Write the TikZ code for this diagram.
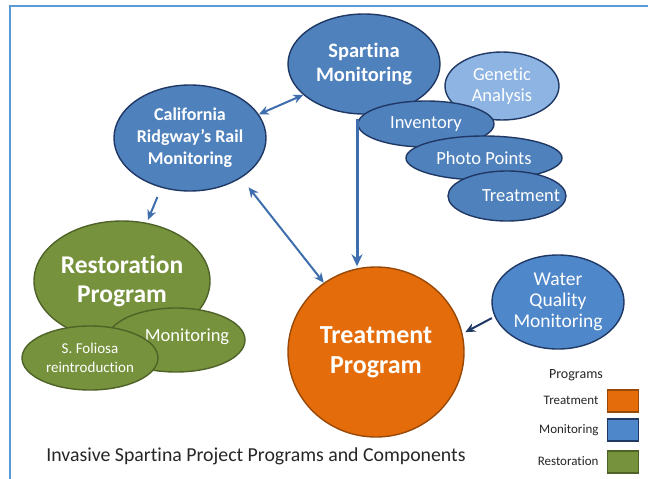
\documentclass[tikz,border=0pt]{standalone}
\usepackage{fontspec}
\setmainfont{Carlito}[Ligatures=NoCommon]
\usetikzlibrary{shapes.geometric,arrows.meta,calc}
\definecolor{bfill}{HTML}{4F81BD}
\definecolor{bdraw}{HTML}{1F3864}
\definecolor{lfill}{HTML}{8DB4E2}
\definecolor{wfill}{HTML}{4F87CB}
\definecolor{gfill}{HTML}{76923C}
\definecolor{gdraw}{HTML}{4F6228}
\definecolor{ofill}{HTML}{E46C0A}
\definecolor{odraw}{HTML}{984807}
\definecolor{arrc}{HTML}{3E6EAD}
\definecolor{framec}{HTML}{5B9BD5}
\definecolor{capc}{HTML}{262626}
\tikzset{
  el/.style={ellipse, line width=1.4pt, inner sep=0pt, align=center, text=white},
  blueel/.style={el, fill=bfill, draw=bdraw},
  greenel/.style={el, fill=gfill, draw=gdraw},
  big/.style={font=\fontsize{20.5}{24}\selectfont\bfseries},
  mid/.style={font=\fontsize{18}{22}\selectfont\bfseries},
  small/.style={font=\fontsize{18.5}{21}\selectfont},
  arrow/.style={draw=arrc, line width=2pt, -{Stealth[length=10pt,width=9pt]}},
  darrow/.style={draw=arrc, line width=2pt, {Stealth[length=10pt,width=9pt]}-{Stealth[length=10pt,width=9pt]}},
  legbox/.style={draw, line width=1.2pt, minimum width=31pt, minimum height=22pt, inner sep=0pt},
  leglbl/.style={anchor=east, font=\fontsize{13}{15}\selectfont, text=capc}
}
\begin{document}
\begin{tikzpicture}[x=1pt,y=-1pt]
\useasboundingbox (0,0) rectangle (648,479);
\fill[white] (0,0) rectangle (648,479);
% frame
\draw[framec, line width=2.6pt] (648,6) -- (10,6) -- (10,479);

% Spartina cluster
\node[blueel, big, minimum width=152pt, minimum height=100pt] (sp) at (364,64) {Spartina\\Monitoring};
\node[el, fill=lfill, draw=bdraw, small, minimum width=114pt, minimum height=68pt] (gen) at (502,86) {Genetic\\Analysis};
\node[blueel, small, minimum width=136pt, minimum height=46pt] (inv) at (426,124) {Inventory};
\node[blueel, small, minimum width=156pt, minimum height=44pt] (pp) at (484,158) {Photo Points};
\node[blueel, minimum width=118pt, minimum height=50pt] (trm) at (507,196) {};
\node[small, text=white] (trmt) at (521,196) {Treatment};

% California
\node[blueel, mid, minimum width=152pt, minimum height=106pt] (ca) at (190,138) {California\\Ridgway’s Rail\\Monitoring};

% Restoration cluster
\node[greenel, font=\fontsize{25.5}{29}\selectfont\bfseries, minimum width=176pt, minimum height=120pt] (rest) at (122,281) {Restoration\\Program};
\node[greenel, minimum width=138pt, minimum height=64pt] (rmon) at (176,340) {};
\node[small, text=white] (rmont) at (187,337) {Monitoring};
\node[greenel, font=\fontsize{15}{19}\selectfont, minimum width=136pt, minimum height=64pt] (sfol) at (90,358) {S. Foliosa\\reintroduction};

% Treatment program
\node[el, fill=ofill, draw=odraw, font=\fontsize{26}{30}\selectfont\bfseries, minimum width=176pt, minimum height=170pt] (treat) at (376,352) {Treatment\\Program};

% Water quality
\node[el, fill=wfill, draw=bdraw, font=\fontsize{19.5}{21}\selectfont, minimum width=132pt, minimum height=94pt] (wq) at (558,302) {Water\\Quality\\Monitoring};

% connectors
\draw[darrow] (ca.19) -- (sp.207);
\draw[arrow, shorten <=10pt, shorten >=3pt] (ca.240) -- (rest.67);
\draw[darrow, shorten <=12pt] (ca.322) -- (treat.127);
\coordinate (v1) at (357,119);
\draw[draw=arrc, line width=3pt, -{Stealth[length=12pt,width=11pt]}] (v1) -- (v1 |- treat.north);
\draw[draw=bdraw, line width=2pt, -{Stealth[length=10pt,width=9pt]}, shorten <=3pt, shorten >=3pt] (wq.193) -- (treat.12);

% legend
\node[font=\fontsize{14}{16}\selectfont, text=capc] (legt) at (576,375) {Programs};
\node[legbox, fill=ofill, draw=odraw] (lb1) at (623,401) {};
\node[legbox, fill=wfill, draw=bdraw] (lb2) at (623,430) {};
\node[legbox, fill=gfill, draw=gdraw] (lb3) at (623,462) {};
\node[leglbl] (ll1) at (602,400) {Treatment};
\node[leglbl] (ll2) at (602,430) {Monitoring};
\node[leglbl] (ll3) at (602,461) {Restoration};

% caption
\node[font=\fontsize{19.8}{22}\selectfont, text=capc] (cap) at (256,456) {Invasive Spartina Project Programs and Components};
\end{tikzpicture}
\end{document}
